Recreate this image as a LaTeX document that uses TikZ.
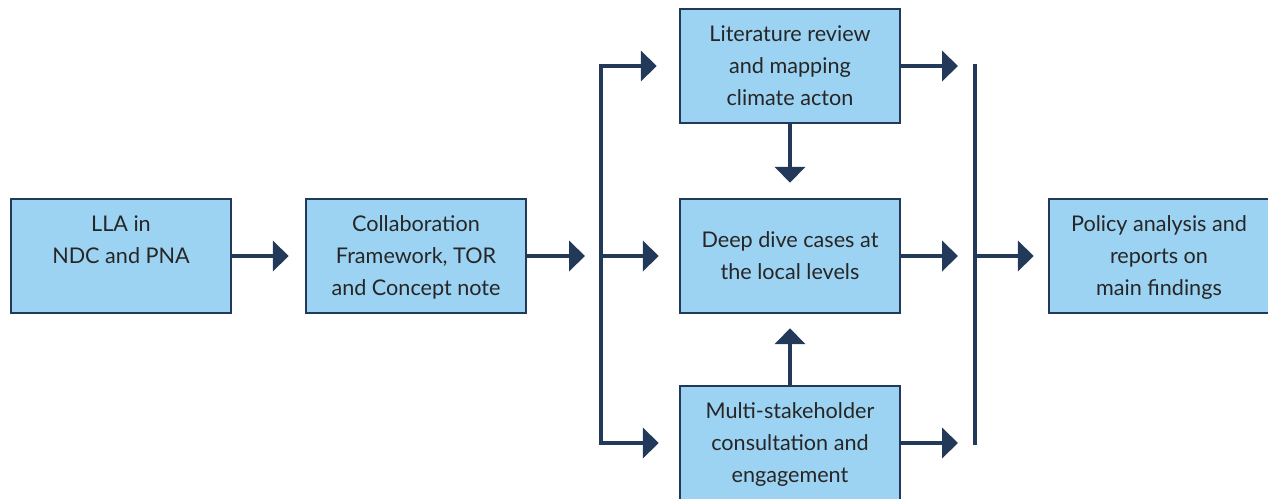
\documentclass[tikz,border=0pt]{standalone}
\usepackage{fontspec}
\setmainfont{Lato}
\usetikzlibrary{arrows.meta}
\definecolor{boxblue}{RGB}{157,211,242}
\definecolor{navy}{RGB}{35,57,90}

\begin{document}
\begin{tikzpicture}[
    x=0.02cm, y=-0.02cm,
    font=\fontsize{12.3}{18.2}\selectfont,
    process/.style={rectangle,draw=navy,fill=boxblue,line width=0.05cm,minimum width=4.4cm,minimum height=2.28cm,inner sep=0pt,align=center,text=black!85,text depth=-2.5pt},
    arrow/.style={-{Triangle[length=0.32cm,width=0.6cm]},navy,line width=0.09cm},
    bar/.style={navy,line width=0.09cm,line cap=rect}
]
\useasboundingbox (0,0) rectangle (1268,498);

\node[process] (lla) at (121,256) {LLA in\\NDC and PNA\\\strut};
\node[process] (collab) at (416,256) {Collaboration\\Framework, TOR\\and Concept note};
\node[process] (lit) at (790,66) {Literature review\\and mapping\\climate acton};
\node[process] (deep) at (790,256) {Deep dive cases at\\the local levels};
\node[process] (multi) at (790,443) {Multi-stakeholder\\consultation and\\engagement};
\node[process] (policy) at (1159,256) {Policy analysis and\\reports on\\main findings};

\coordinate (split) at (601,256);
\coordinate (merge) at (975,256);

\draw[arrow,shorten >=0.32cm] (lla) -- (collab);
\draw[arrow,shorten >=0.32cm] (collab) -- (split);
\draw[bar] (split |- lit) -- (split |- multi);
\draw[arrow,shorten >=0.44cm] (split |- lit) -- (lit);
\draw[arrow,shorten >=0.4cm] (split) -- (deep);
\draw[arrow,shorten >=0.4cm] (split |- multi) -- (multi);
\draw[arrow,shorten >=0.3cm] (lit) -- (deep);
\draw[arrow,shorten >=0.28cm] (multi) -- (deep);
\draw[bar] (merge |- lit) -- (merge |- multi);
\draw[arrow,shorten >=0.34cm] (lit) -- (merge |- lit);
\draw[arrow,shorten >=0.34cm] (deep) -- (merge);
\draw[arrow,shorten >=0.34cm] (multi) -- (merge |- multi);
\draw[arrow,shorten >=0.28cm] (merge) -- (policy);
\end{tikzpicture}
\end{document}
